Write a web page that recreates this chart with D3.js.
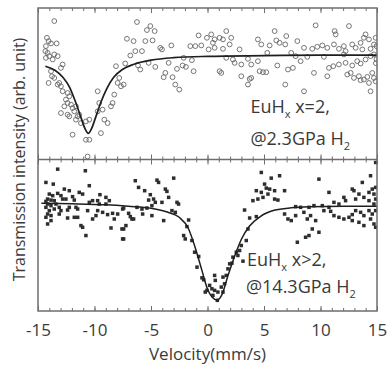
<!DOCTYPE html>
<html>
<head>
<meta charset="utf-8">
<script src="https://cdn.jsdelivr.net/npm/d3@7"></script>
<style>
body { margin: 0; background: #fff; }
text { font-family: "Open Sans", sans-serif; fill: #3a3a3a; }
</style>
</head>
<body>
<div id="chart"></div>
<script>
// Tick values for the velocity axis
const majorTicks = [-15, -10, -5, 0, 5, 10, 15];
const minorTicks = d3.range(-15, 16, 1);

// Upper panel: EuHx x=2 @2.3GPa (velocity mm/s, relative transmission)
const topData = [
    [-13.56,103.4],[-14.21,101.73],[-14.06,101.4],[-14.3,100.9],[-13.85,101.17],[-13.35,101.17],[-14.35,100.4],[-14.15,100.23],
    [-14.0,99.9],[-13.56,100.07],[-13.26,99.9],[-14.3,99.73],[-13.7,99.57],[-12.97,98.73],[-12.82,99.07],[-13.85,98.4],
    [-13.76,97.9],[-13.56,97.73],[-14.06,97.23],[-13.12,97.23],[-12.97,96.9],[-13.26,97.07],[-12.82,96.4],[-12.38,96.23],
    [-12.23,95.9],[-12.53,95.57],[-12.38,95.23],[-12.08,95.07],[-12.67,94.9],[-11.94,94.73],[-11.64,94.9],[-12.97,94.23],
    [-12.38,94.07],[-12.23,93.9],[-11.79,94.4],[-11.49,93.9],[-11.35,94.07],[-11.64,93.57],[-11.2,93.23],[-10.76,93.4],
    [-10.46,93.57],[-11.94,92.07],[-10.76,91.57],[-10.46,91.57],[-10.61,89.9],[-9.72,96.4],[-9.58,95.23],[-9.72,94.4],
    [-9.28,94.57],[-9.13,93.57],[-9.43,92.23],[-8.84,93.23],[-8.4,95.23],[-8.25,96.07],[-8.54,94.9],[-8.1,98.9],
    [-7.81,97.73],[-7.95,97.23],[-7.66,96.9],
    [-6.24,103.3],[-5.06,102.9],[-5.36,102.5],[-4.68,102.4],[-7.13,101.63],[-6.54,101.4],[-5.5,101.4],[-4.86,101.47],
    [-4.18,100.73],[-4.03,100.57],[-3.2,100.97],[-6.39,100.4],[-5.8,100.4],[-6.83,99.97],[-7.28,99.17],[-6.15,98.97],
    [-5.95,98.57],[-5.21,99.23],[-4.62,98.83],[-3.44,99.23],[-3.73,98.23],[-3.88,97.8],[-2.7,98.63],[-3.09,97.8],
    [-2.85,97.07],[-2.5,96.57],[-2.11,99.73],[-1.38,99.5],[-2.2,98.97],[-1.91,98.83],[-1.52,100.9],[-1.08,100.9],
    [-0.55,100.97],[-0.79,101.97],[-0.05,101.73],[-1.23,98.4],[-7.42,97.07],
    [0.33,102.07],[0.63,101.57],[0.48,101.23],[1.07,101.73],[1.37,101.57],[2.1,101.73],[1.66,102.4],[0.63,100.73],
    [1.37,100.63],[1.96,101.07],[2.84,100.57],[0.1,100.57],[4.46,101.57],[4.76,101.07],[5.5,100.97],[6.09,101.47],
    [6.38,101.23],[6.88,101.07],[5.94,102.4],[6.97,101.9],[1.66,99.73],[2.4,99.23],[2.25,99.57],[2.99,99.07],
    [3.58,99.63],[3.87,99.07],[4.46,99.4],[1.07,98.4],[1.22,98.23],[2.99,97.9],[3.73,97.63],[3.58,97.07],
    [3.87,97.73],[4.61,98.4],[4.91,98.3],[5.2,98.3],[6.18,98.97],[7.12,98.57],[7.56,98.73],[6.88,97.07],
    [7.41,100.23],[5.29,100.23],
    [9.57,102.97],[11.25,102.4],[11.34,102.07],[12.52,102.9],[7.95,101.4],[8.54,100.73],[9.27,100.63],[9.71,100.83],
    [10.16,100.97],[10.6,100.73],[11.19,101.07],[11.63,100.63],[12.07,100.9],[12.22,100.4],[12.81,101.07],[13.11,100.73],
    [13.55,101.23],[13.84,101.73],[13.99,102.07],[14.29,101.57],[13.7,100.57],[14.43,100.63],[14.73,101.07],[7.8,99.9],
    [8.83,99.83],[10.3,99.83],[12.07,100.07],[8.24,99.4],[9.42,98.23],[10.75,98.73],[11.13,98.9],[11.63,99.07],
    [12.22,99.23],[12.81,98.97],[13.55,99.17],[13.25,99.4],[13.99,99.57],[14.43,99.9],[14.73,100.07],[10.6,97.9],
    [12.37,98.07],[12.96,97.73],[13.4,97.9],[13.84,97.57],[14.14,97.83],[14.73,97.73],[14.58,98.23],[14.88,97.4],
    [14.29,97.23],[13.55,97.5],[12.67,98.23],[8.54,96.4],[14.43,96.4],[14.88,101.73],[14.95,100.9],[14.95,99.6],[14.9,99.2]
];

// Upper panel fit line
const topFit = [
    [-14.35,98.9],[-13.5,98.5],[-12.8,97.8],[-12.2,96.8],[-11.7,95.4],[-11.2,93.8],[-10.85,92.7],[-10.55,92.2],
    [-10.25,92.7],[-9.9,93.8],[-9.4,95.4],[-8.9,96.7],[-8.3,97.8],[-7.5,98.6],[-6.5,99.1],[-5.0,99.5],
    [-3,99.75],[0,99.88],[5,99.95],[10,100],[15,100]
];

// Lower panel: EuHx x>2 @14.3GPa
const bottomData = [
    [-13.26,103.63],[-10.81,103.47],[-14.3,102.3],[-13.65,102.13],[-10.46,101.97],[-12.67,101.63],[-12.23,101.47],[-11.35,101.3],
    [-11.05,101.13],[-14.0,101.13],[-13.7,100.97],[-13.26,101.2],[-12.97,100.97],[-14.15,100.63],[-13.85,100.53],[-14.3,100.4],
    [-13.56,100.47],[-12.82,100.63],[-12.53,100.63],[-11.94,100.87],[-11.79,100.53],[-9.52,101.07],[-8.99,100.8],[-9.72,100.47],
    [-10.17,100.47],[-10.46,100.3],[-14.15,100.13],[-13.85,99.97],[-13.41,100.13],[-14.3,99.8],[-13.56,99.63],[-13.12,99.8],
    [-12.23,99.8],[-11.64,99.8],[-11.49,99.63],[-12.38,99.53],[-12.97,99.47],[-14.0,99.47],[-9.58,100.13],[-8.99,100.13],
    [-8.69,100.47],[-14.15,99.13],[-13.85,98.97],[-14.3,98.8],[-13.12,99.13],[-12.38,98.73],[-11.79,98.8],[-11.49,98.8],
    [-10.61,99.47],[-9.72,99.47],[-9.28,99.3],[-8.84,99.07],[-8.4,99.2],[-9.87,98.97],[-10.17,98.63],[-8.25,98.63],
    [-7.95,99.13],[-7.51,99.63],[-14.15,98.13],[-13.85,98.47],[-11.2,97.97],[-11.05,97.8],[-10.76,96.97],[-8.54,97.73],
    [-7.57,97.63],[-7.51,96.63],
    [-6.39,102.47],[-6.1,101.8],[-4.47,102.53],[-4.33,102.3],[-2.99,102.73],[-3.73,101.63],[-3.59,101.4],[-3.44,100.8],
    [-5.56,101.47],[-5.06,101.07],[-5.21,100.53],[-4.77,100.63],[-4.03,100.3],[-4.62,100.3],[-4.92,99.97],[-5.36,99.73],
    [-5.8,99.63],[-6.24,99.8],[-7.42,99.73],[-2.7,100.3],[-2.56,100.13],[-2.85,99.3],[-3.15,99.47],[-3.88,98.47],
    [-4.92,98.97],[-5.74,99.13],[-6.98,99.2],[-6.83,98.87],[-6.69,98.63],[-6.54,98.63],[-7.22,97.97],[-7.42,97.63],
    [-7.42,96.63],[-1.67,98.53],[-1.82,97.87],[-2.11,96.97],[-1.97,96.63],[-1.38,96.47],[-1.14,95.3],[-0.78,94.87],
    [-0.93,93.8],[-0.49,92.73],[-0.34,92.53],[-0.2,91.3],[-0.05,91.47],
    [4.76,103.3],[5.64,102.73],[6.38,102.97],[4.32,101.47],[4.76,101.3],[5.5,101.63],[5.2,101.73],[5.94,101.47],
    [5.35,101.13],[4.91,100.8],[4.46,100.63],[4.02,100.47],[5.94,100.63],[6.23,100.53],[6.82,101.47],[5.05,102.13],
    [3.28,99.53],[4.32,98.87],[3.73,98.73],[6.82,99.13],[7.12,98.63],[7.41,98.47],[3.58,97.63],[3.43,96.47],
    [2.99,95.97],[2.84,95.47],[2.55,95.3],[2.69,94.97],[2.25,94.8],[2.16,94.2],[1.96,94.13],[1.81,93.63],
    [1.66,92.97],[1.37,92.8],[1.51,92.13],[1.22,91.8],[3.14,94.4],[0.63,92.97],[0.19,91.97],[0.39,91.63],
    [0.63,91.47],[0.48,90.97],[0.87,90.47],[0.92,91.3],[1.37,91.3],[0.69,92.47],
    [9.86,102.63],[13.7,102.3],[14.43,102.97],[10.75,101.3],[12.96,101.47],[12.81,101.63],[13.11,100.63],[13.4,101.13],
    [13.84,100.8],[14.29,101.3],[14.58,101.63],[14.88,101.8],[14.73,101.13],[12.07,100.8],[12.22,100.47],[11.19,100.3],
    [11.63,100.13],[10.75,99.8],[10.16,99.97],[9.42,99.97],[8.98,99.8],[8.24,99.8],[7.8,99.87],[14.29,100.47],
    [14.73,100.13],[14.88,100.63],[8.53,99.3],[9.12,98.97],[10.3,99.47],[10.9,99.4],[11.19,98.97],[11.63,98.8],
    [12.07,98.63],[12.52,98.8],[12.81,99.07],[13.11,99.47],[13.55,99.3],[13.84,98.97],[14.29,99.47],[14.58,99.13],
    [14.88,99.47],[7.8,98.97],[8.83,98.63],[9.57,98.47],[12.81,98.47],[13.4,98.3],[14.43,98.63],[14.73,98.13],
    [13.84,97.97],[14.88,97.8],[9.27,97.63],[8.98,96.97],[9.86,97.3],[8.68,96.8],[7.95,96.3],[14.88,104.3]
];

// Lower panel fit line
const bottomFit = [
    [-14.7,100.2],[-12,100.15],[-9,100.05],[-7,99.9],[-5,99.7],[-3.5,99.3],[-2.5,98.8],[-1.7,97.7],
    [-1.1,95.8],[-0.5,93.5],[0,91.6],[0.4,90.8],[0.85,90.5],[1.3,91.1],[1.8,92.9],[2.4,94.9],
    [3.0,96.6],[3.7,97.9],[4.7,98.9],[5.9,99.5],[7.4,99.75],[9,99.85],[12,99.9],[15,99.9]
];

const width = 387, height = 366;
const margin = { top: 8, right: 10, bottom: 55, left: 38 };
const plotW = width - margin.left - margin.right;
const plotH = height - margin.top - margin.bottom;
const midY = margin.top + plotH / 2;

const svg = d3.select("#chart").append("svg")
    .attr("width", width)
    .attr("height", height);

const x = d3.scaleLinear().domain([-15, 15]).range([margin.left, margin.left + plotW]);
const yTop = d3.scaleLinear().domain([89.6, 104.7]).range([midY, margin.top]);
const yBot = d3.scaleLinear().domain([89.4, 104.6]).range([margin.top + plotH, midY]);

// clip so nothing leaks over the frame
const defs = svg.append("defs");
defs.append("clipPath").attr("id", "clip-top").append("rect")
    .attr("x", margin.left).attr("y", margin.top).attr("width", plotW).attr("height", midY - margin.top);
defs.append("clipPath").attr("id", "clip-bot").append("rect")
    .attr("x", margin.left).attr("y", midY).attr("width", plotW).attr("height", margin.top + plotH - midY);

// upper panel: open circles
const gTop = svg.append("g").attr("clip-path", "url(#clip-top)");
gTop.selectAll("circle")
    .data(topData)
    .enter()
    .append("circle")
    .attr("cx", d => x(d[0]))
    .attr("cy", d => yTop(d[1]))
    .attr("r", 2.4)
    .attr("fill", "none")
    .attr("stroke", "#666")
    .attr("stroke-width", 0.9);

const lineTop = d3.line().x(d => x(d[0])).y(d => yTop(d[1])).curve(d3.curveMonotoneX);
gTop.append("path")
    .attr("d", lineTop(topFit))
    .attr("fill", "none")
    .attr("stroke", "#1e1e1e")
    .attr("stroke-width", 1.7);

// lower panel: filled squares
const gBot = svg.append("g").attr("clip-path", "url(#clip-bot)");
gBot.selectAll("rect")
    .data(bottomData)
    .enter()
    .append("rect")
    .attr("x", d => x(d[0]) - 1.75)
    .attr("y", d => yBot(d[1]) - 1.75)
    .attr("width", 3.5)
    .attr("height", 3.5)
    .attr("fill", "#2e2e2e");

const lineBot = d3.line().x(d => x(d[0])).y(d => yBot(d[1])).curve(d3.curveMonotoneX);
gBot.append("path")
    .attr("d", lineBot(bottomFit))
    .attr("fill", "none")
    .attr("stroke", "#1e1e1e")
    .attr("stroke-width", 1.5);

// frame
svg.append("rect")
    .attr("x", margin.left)
    .attr("y", margin.top)
    .attr("width", plotW)
    .attr("height", plotH)
    .attr("fill", "none")
    .attr("stroke", "#6e6e6e")
    .attr("stroke-width", 1.5);
svg.append("line")
    .attr("x1", margin.left).attr("x2", margin.left + plotW)
    .attr("y1", midY).attr("y2", midY)
    .attr("stroke", "#6e6e6e")
    .attr("stroke-width", 1.5);

// tick marks (inward on outer edges, both sides on the middle line)
function tickRow(axis, y, size, values) {
    const g = svg.append("g")
        .attr("transform", `translate(0,${y})`)
        .call(axis(x).tickValues(values).tickSize(size).tickFormat(""));
    g.select(".domain").remove();
    g.selectAll("line").attr("stroke", "#6e6e6e").attr("stroke-width", 1);
}
tickRow(d3.axisTop, margin.top, -3, minorTicks);
tickRow(d3.axisTop, margin.top, -5, majorTicks);
tickRow(d3.axisBottom, midY, 3, minorTicks);
tickRow(d3.axisBottom, midY, -3, minorTicks);
tickRow(d3.axisBottom, midY, 5, majorTicks);
tickRow(d3.axisBottom, midY, -5, majorTicks);
tickRow(d3.axisBottom, margin.top + plotH, -3, minorTicks);

const xAxis = svg.append("g")
    .attr("transform", `translate(0,${margin.top + plotH})`)
    .call(d3.axisBottom(x).tickValues(majorTicks).tickSize(-5).tickPadding(13).tickFormat(d => String(d)));
xAxis.select(".domain").remove();
xAxis.selectAll("line").attr("stroke", "#6e6e6e").attr("stroke-width", 1);
xAxis.selectAll("text").attr("font-size", 17).attr("font-family", "Open Sans, sans-serif").attr("fill", "#3a3a3a");

// axis titles
svg.append("text")
    .attr("x", x(0))
    .attr("y", 360)
    .attr("text-anchor", "middle")
    .attr("font-size", 17)
    .text("Velocity(mm/s)");

svg.append("text")
    .attr("transform", `translate(25,${margin.top + plotH / 2}) rotate(-90)`)
    .attr("text-anchor", "middle")
    .attr("font-size", 16)
    .text("Transmission intensity (arb. unit)");

// sample labels
function label(xv, y, main, rest) {
    const t = svg.append("text").attr("x", x(xv)).attr("y", y).attr("font-size", 18);
    t.append("tspan").text(main);
    t.append("tspan").attr("font-size", 11).attr("dy", 5).text("x");
    t.append("tspan").attr("dy", -5).text(rest);
}
function label2(xv, y, main) {
    const t = svg.append("text").attr("x", x(xv)).attr("y", y).attr("font-size", 18);
    t.append("tspan").text(main);
    t.append("tspan").attr("font-size", 11).attr("dy", 5).text("2");
}
label(3.8, 113, "EuH", " x=2,");
label2(3.8, 145, "@2.3GPa H");
label(3.5, 266, "EuH", " x>2,");
label2(3.4, 293, "@14.3GPa H");
</script>
</body>
</html>
